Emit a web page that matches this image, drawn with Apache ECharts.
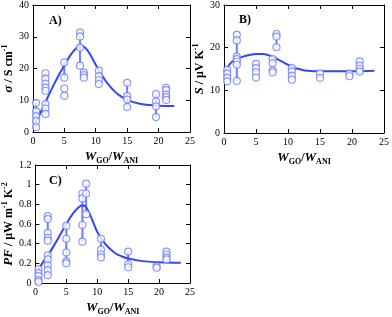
<!DOCTYPE html>
<html><head><meta charset="utf-8">
<script src="https://cdn.jsdelivr.net/npm/echarts@6/dist/echarts.min.js"></script>
<style>html,body{margin:0;padding:0;background:#fff}#c{width:392px;height:317px}</style>
</head><body><div id="c"></div>
<script>
// ---- Data ----
const xTicks = [0, 5, 10, 15, 20, 25];
// Panel A: conductivity
const aX = [0.5, 2, 5, 7.5, 8.1, 10.5, 15, 19.6, 21.2];
const aY = [[9.2, 6.5, 5.0, 3.4, 1.5], [18.5, 16.8, 15.2, 14.0, 13.0, 8.8, 7.4, 5.7], [21.9, 17.1, 13.7, 11.4], [31.4, 30.1, 26.6, 20.9], [18.7, 17.9, 17.1], [19.3, 17.6, 16.3, 15.1], [15.5, 11.3, 10.2, 7.9], [11.9, 9.6, 8.1, 4.7], [13.9, 13.2, 11.8, 11.0, 10.1]];
const aSeg = [[0.5, 1.5, 9.2], [2, 13.0, 18.5], [2, 5.7, 8.8], [5, 17.1, 21.9], [7.5, 20.9, 31.4], [10.5, 16.3, 19.3], [15, 7.9, 15.5], [19.6, 4.7, 11.9], [21.2, 10.1, 13.9]];
const aCurve = [[0.2, 2.2], [0.5, 3.3], [1, 5.2], [1.5, 7.3], [2, 9.4], [3, 13.6], [4, 17.5], [5, 21.0], [6, 24.3], [7, 26.6], [7.6, 27.2], [8.2, 26.8], [9, 24.8], [10, 21.2], [11, 17.8], [12, 15.0], [13, 12.8], [14, 11.2], [15, 10.1], [16, 9.4], [17, 8.9], [18, 8.6], [20, 8.3], [22.5, 8.2]];
// Panel B: Seebeck
const bX = [0.5, 2, 5, 7.6, 8.2, 10.6, 15, 19.6, 21.2];
const bY = [[14.8, 13.9, 12.9, 12.1], [23.0, 21.7, 17.9, 17.3, 16.7, 16.0, 12.2], [16.2, 15.2, 14.2, 13.0], [17.3, 16.4, 14.7, 14.2], [23.2, 22.6, 20.1], [15.2, 14.4, 13.4, 12.5], [14.0, 12.9], [13.9, 13.3], [16.8, 15.8, 15.0, 14.4]];
const bSeg = [[0.5, 12.1, 14.8], [2, 12.2, 23.0], [7.6, 16.4, 17.3], [8.2, 20.1, 23.2], [10.6, 13.4, 15.2], [15, 12.9, 14.0], [21.2, 14.4, 16.8]];
const bCurve = [[0.2, 14.3], [0.5, 15.2], [1, 16.3], [1.5, 17.0], [2, 17.4], [3, 17.9], [4, 18.3], [5, 18.5], [6, 18.5], [7, 18.2], [8, 17.6], [9, 16.8], [10, 16.0], [11, 15.3], [12, 14.9], [13, 14.6], [14, 14.5], [15, 14.5], [17, 14.5], [20, 14.5], [23.5, 14.6]];
// Panel C: power factor
const cX = [0.5, 2, 5, 7.6, 8.2, 10.6, 15, 19.6, 21.2];
const cY = [[0.14, 0.10, 0.07, 0.03, 0.01], [0.68, 0.65, 0.51, 0.46, 0.43, 0.28, 0.24, 0.18, 0.13, 0.08], [0.58, 0.45, 0.31, 0.22, 0.20], [0.91, 0.86, 0.59, 0.42], [1.01, 0.91, 0.70], [0.45, 0.34, 0.29, 0.26], [0.32, 0.19, 0.16], [0.17, 0.155], [0.32, 0.29, 0.26, 0.24]];
const cSeg = [[0.5, 0.01, 0.14], [2, 0.43, 0.68], [2, 0.08, 0.28], [5, 0.20, 0.58], [7.6, 0.42, 0.91], [8.2, 0.70, 1.01], [10.6, 0.26, 0.45], [15, 0.16, 0.32], [21.2, 0.24, 0.32]];
const cCurve = [[0.2, 0.11], [0.5, 0.14], [1, 0.19], [2, 0.28], [3, 0.38], [4, 0.49], [5, 0.60], [6, 0.70], [7, 0.77], [7.6, 0.79], [8.2, 0.77], [9, 0.67], [10, 0.52], [11, 0.42], [12, 0.35], [13, 0.30], [14, 0.27], [15, 0.25], [17, 0.225], [20, 0.21], [23.5, 0.205]];

// ---- Style ----
const SERIF = '"Liberation Serif","Times New Roman",serif';
const CURVE = '#3347f2';
const MARK = '#6e7dff';

function pts(xs, ys) {
  const out = [];
  xs.forEach((x, i) => ys[i].forEach(v => out.push([x, v])));
  return out;
}

const grids = [
  {left: 31, top: 5, width: 159, height: 127},
  {left: 224, top: 5, width: 163, height: 128},
  {left: 31, top: 165, width: 159, height: 125}
];
const yCfg = [
  {min: 0, max: 40, interval: 10, name: '{i|σ}{b| / S cm}{s|-1}'},
  {min: 0, max: 30, interval: 10, name: '{i|S}{b| / μV K}{s|-1}'},
  {min: 0, max: 1.2, interval: 0.2, name: '{i|PF}{b| / μW m}{s|-1}{b| K}{s|-2}'}
];
const richY = {
  i: {fontFamily: SERIF, fontWeight: 'bold', fontStyle: 'italic', fontSize: 13, color: '#000'},
  b: {fontFamily: SERIF, fontWeight: 'bold', fontSize: 12, color: '#000'},
  s: {fontFamily: SERIF, fontWeight: 'bold', fontSize: 8, color: '#000', padding: [0, 0, 7, 0]}
};
const richX = {
  w: {fontFamily: SERIF, fontWeight: 'bold', fontStyle: 'italic', fontSize: 13, color: '#000'},
  b: {fontFamily: SERIF, fontWeight: 'bold', fontSize: 12, color: '#000'},
  s: {fontFamily: SERIF, fontWeight: 'bold', fontSize: 8, color: '#000', padding: [8, 0, 0, 0]}
};

const xAxis = [], yAxis = [], series = [];
const sets = [[aX, aY, aSeg, aCurve], [bX, bY, bSeg, bCurve], [cX, cY, cSeg, cCurve]];
grids.forEach((g, k) => {
  const tick = {show: true, inside: true, length: 4, lineStyle: {color: '#000', width: 1}};
  xAxis.push({type: 'value', gridIndex: k, min: 0, max: 25, interval: 5, position: 'bottom',
    axisLine: {show: true, onZero: false, lineStyle: {color: '#000', width: 1}}, axisTick: tick,
    axisLabel: {fontFamily: SERIF, fontSize: 10, color: '#000', margin: 4}, splitLine: {show: false},
    name: '{w|W}{s|GO}{b|/}{w|W}{s|ANI}', nameLocation: 'middle', nameGap: 17, nameTextStyle: {rich: richX}});
  xAxis.push({type: 'value', gridIndex: k, min: 0, max: 25, interval: 5, position: 'top',
    axisLine: {show: true, onZero: false, lineStyle: {color: '#000', width: 1}}, axisTick: tick,
    axisLabel: {show: false}, splitLine: {show: false}});
  const y = yCfg[k];
  yAxis.push({type: 'value', gridIndex: k, min: y.min, max: y.max, interval: y.interval, position: 'left',
    axisLine: {show: true, onZero: false, lineStyle: {color: '#000', width: 1}}, axisTick: tick,
    axisLabel: {fontFamily: SERIF, fontSize: 10, color: '#000', margin: 4}, splitLine: {show: false},
    name: y.name, nameLocation: 'middle', nameGap: k === 2 ? 18 : 15, nameRotate: 90, nameTextStyle: {rich: richY}});
  yAxis.push({type: 'value', gridIndex: k, min: y.min, max: y.max, interval: y.interval, position: 'right',
    axisLine: {show: true, onZero: false, lineStyle: {color: '#000', width: 1}}, axisTick: tick,
    axisLabel: {show: false}, splitLine: {show: false}});
  const [xs, ys, seg, curve] = sets[k];
  series.push({type: 'custom', xAxisIndex: 2 * k, yAxisIndex: 2 * k, z: 2,
    renderItem: function (params, api) {
      const p1 = api.coord([api.value(0), api.value(1)]);
      const p2 = api.coord([api.value(0), api.value(2)]);
      return {type: 'line', shape: {x1: p1[0], y1: p1[1], x2: p2[0], y2: p2[1]}, style: {stroke: MARK, lineWidth: 2}};
    },
    data: seg, silent: true});
  series.push({type: 'line', xAxisIndex: 2 * k, yAxisIndex: 2 * k, data: curve, smooth: 0.4, showSymbol: false,
    lineStyle: {color: CURVE, width: 2}, z: 3, silent: true});
  series.push({type: 'scatter', xAxisIndex: 2 * k, yAxisIndex: 2 * k, data: pts(xs, ys), symbol: 'circle', symbolSize: 7,
    itemStyle: {color: '#fff', borderColor: MARK, borderWidth: 1.2}, z: 4, silent: true});
});

const chart = echarts.init(document.getElementById('c'), null, {renderer: 'canvas'});
chart.setOption({
  animation: false,
  backgroundColor: '#fff',
  grid: grids,
  xAxis: xAxis,
  yAxis: yAxis,
  series: series,
  title: [
    {text: 'A)', left: 44, top: 10, textStyle: {fontFamily: SERIF, fontWeight: 'bold', fontSize: 12, color: '#000'}},
    {text: 'B)', left: 234, top: 9, textStyle: {fontFamily: SERIF, fontWeight: 'bold', fontSize: 12, color: '#000'}},
    {text: 'C)', left: 44, top: 170, textStyle: {fontFamily: SERIF, fontWeight: 'bold', fontSize: 12, color: '#000'}}
  ]
});
</script></body></html>
